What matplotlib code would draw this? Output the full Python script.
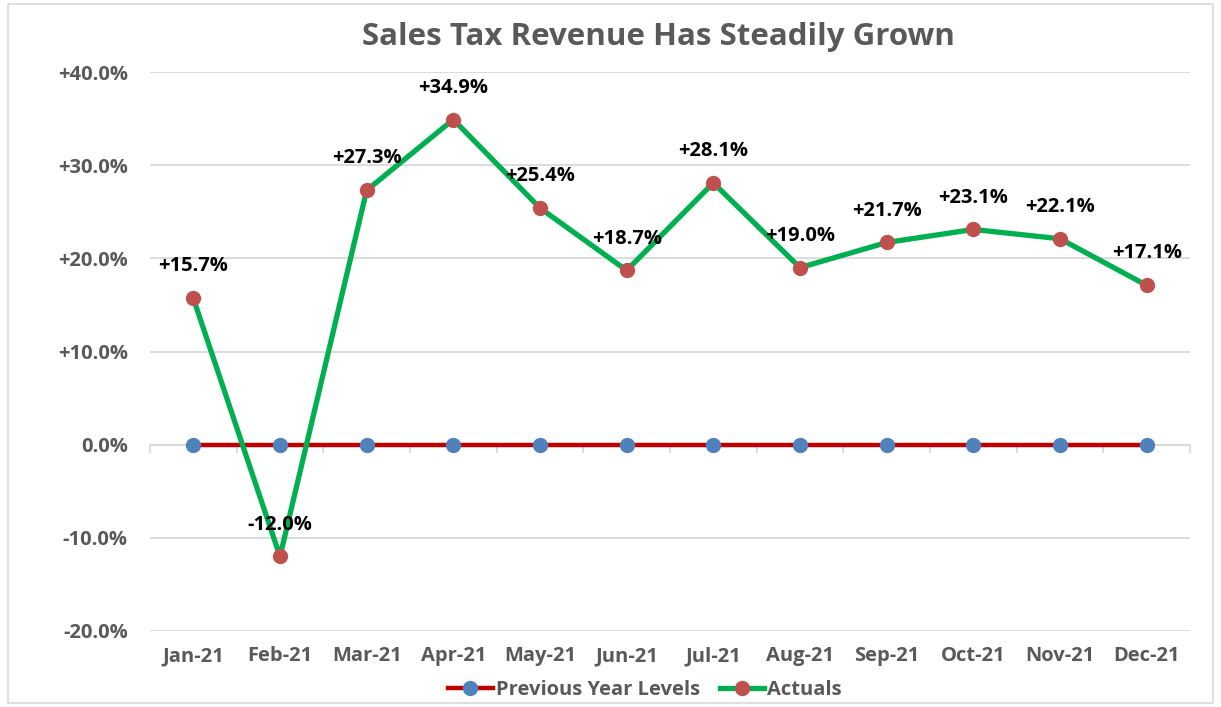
import matplotlib
matplotlib.use("Agg")
import matplotlib.pyplot as plt
from matplotlib.patches import Rectangle
from matplotlib.ticker import FuncFormatter, FixedLocator

months = ["Jan-21", "Feb-21", "Mar-21", "Apr-21", "May-21", "Jun-21",
          "Jul-21", "Aug-21", "Sep-21", "Oct-21", "Nov-21", "Dec-21"]
previous_year = [0.0] * 12
actuals = [15.7, -12.0, 27.3, 34.9, 25.4, 18.7, 28.1, 19.0, 21.7, 23.1, 22.1, 17.1]
y_ticks = [-20, -10, 0, 10, 20, 30, 40]

FONT = ["Open Sans", "DejaVu Sans"]
GRAY = "#595959"
plt.rcParams["font.family"] = FONT

fig = plt.figure(figsize=(12.21, 7.07), dpi=100)
fig.patches.append(Rectangle((8 / 1221, 4 / 707), 1 - 16 / 1221, 1 - 8 / 707,
                             transform=fig.transFigure, fill=False,
                             edgecolor="#D9D9D9", linewidth=1.2))
ax = fig.add_axes([150 / 1221, 1 - 631 / 707, 1040 / 1221, 559 / 707])

x = list(range(len(months)))
ax.plot(x, previous_year, color="#C00000", linewidth=3.2, marker="o",
        markersize=10, markerfacecolor="#4F81BD", markeredgecolor="#4F81BD",
        label="Previous Year Levels", zorder=3)
ax.plot(x, actuals, color="#00B050", linewidth=3.8, marker="o",
        markersize=10, markerfacecolor="#C0504D", markeredgecolor="#C0504D",
        label="Actuals", zorder=4)

for xi, v in zip(x, actuals):
    ax.annotate(f"{v:+.1f}%", (xi, v), xytext=(0, 23), textcoords="offset points",
                ha="center", va="center", fontsize=14.5, fontweight="bold",
                color="black", zorder=5)

ax.set_xlim(-0.5, len(months) - 0.5)
ax.set_ylim(-20, 40)
ax.set_yticks(y_ticks)
ax.yaxis.set_major_formatter(FuncFormatter(lambda v, p: "0.0%" if v == 0 else f"{v:+.1f}%"))
ax.grid(axis="y", color="#D9D9D9", linewidth=1.3, zorder=0)
ax.set_axisbelow(True)
for s in ax.spines.values():
    s.set_visible(False)
ax.tick_params(axis="y", length=0, pad=16, labelsize=14.5, labelcolor=GRAY)
for lbl in ax.get_yticklabels():
    lbl.set_fontweight("bold")

ax.set_xticks(x)
ax.set_xticklabels(months, fontsize=14.5, fontweight="bold", color=GRAY)
ax.tick_params(axis="x", length=0, pad=11)

sec = ax.secondary_xaxis(1 / 3)
sec.spines["bottom"].set_color("#D9D9D9")
sec.spines["bottom"].set_linewidth(1.3)
sec.xaxis.set_major_locator(FixedLocator([i - 0.5 for i in range(len(months) + 1)]))
sec.tick_params(axis="x", length=6, width=1.3, color="#D9D9D9", labelbottom=False,
                direction="out")

fig.suptitle("Sales Tax Revenue Has Steadily Grown", x=658 / 1221, y=1 - 37 / 707,
             va="center", fontsize=22.5, fontweight="bold", color=GRAY)

leg = ax.legend(loc="center", bbox_to_anchor=(645 / 1221, 1 - 690 / 707),
                bbox_transform=fig.transFigure, ncol=2, frameon=False,
                fontsize=14.5, handlelength=2.2, columnspacing=1.0, handletextpad=0.15,
                borderpad=0.0)
for t in leg.get_texts():
    t.set_color(GRAY)
    t.set_fontweight("bold")

fig.savefig("out.png", dpi=100)
